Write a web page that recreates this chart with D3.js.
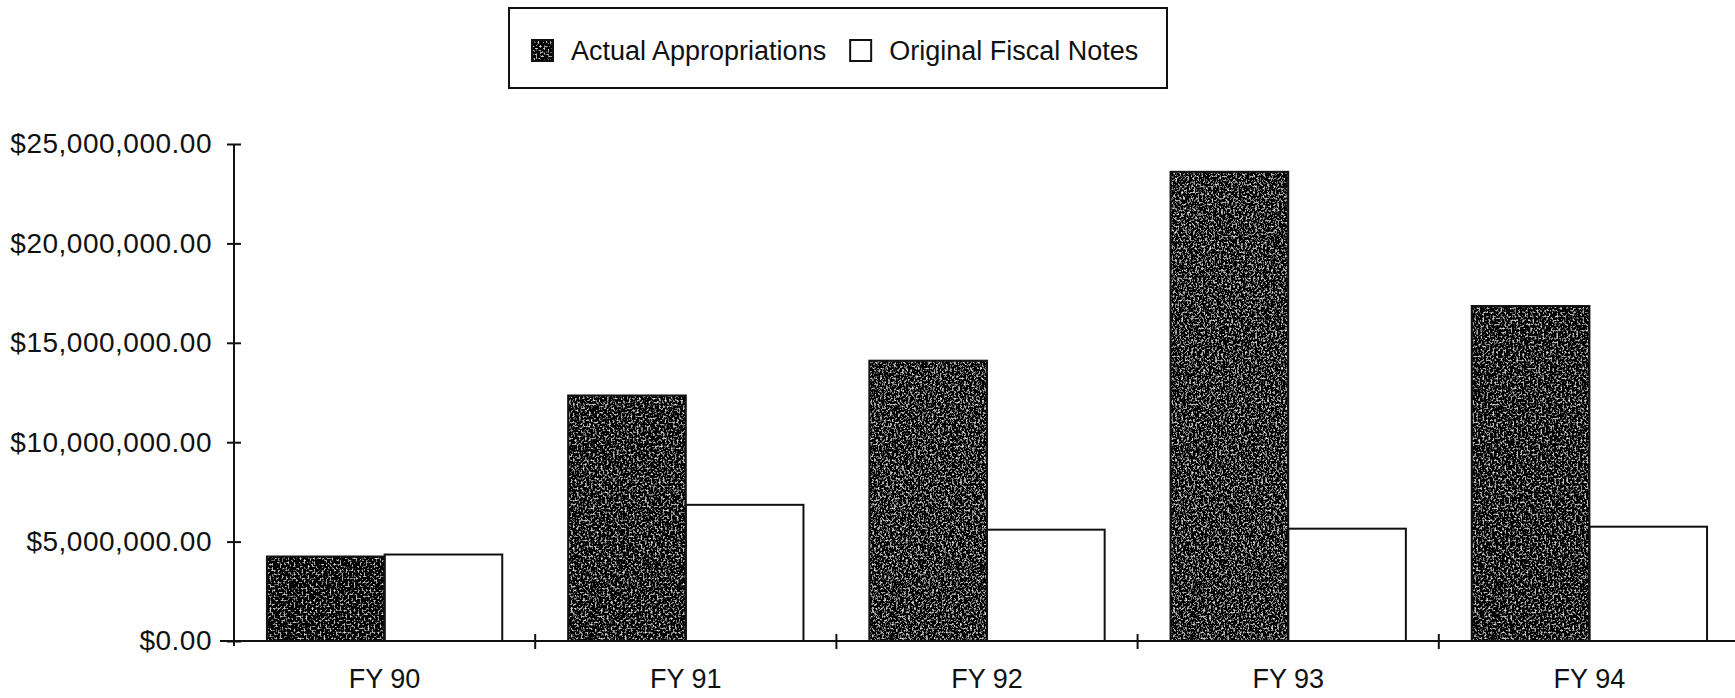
<!DOCTYPE html>
<html>
<head>
<meta charset="utf-8">
<script src="https://cdn.jsdelivr.net/npm/d3@7"></script>
<style>
	body { margin: 0; background: #fff; }
	text { font-family: "Liberation Sans", Arial, sans-serif; fill: #111; }
	.axis path, .axis line { stroke: #111; stroke-width: 2; }
</style>
</head>
<body>
<div id="chart-area"></div>
<script>

// Data
var years = ["FY 90", "FY 91", "FY 92", "FY 93", "FY 94"];
var series = ["Actual Appropriations", "Original Fiscal Notes"];
var actualAppropriations = [4250000, 12350000, 14100000, 23600000, 16850000];
var originalFiscalNotes = [4350000, 6850000, 5600000, 5650000, 5750000];
var yTicks = [0, 5000000, 10000000, 15000000, 20000000, 25000000];

var width = 1735,
	height = 698;

var margin = {top: 144, right: 0, bottom: 57, left: 234};

var svg = d3.select("#chart-area").append("svg")
	.attr("width", width)
	.attr("height", height);

// stippled dark fill
var defs = svg.append("defs");
var grain = defs.append("filter")
	.attr("id", "grain")
	.attr("x", 0).attr("y", 0)
	.attr("width", "100%").attr("height", "100%");
grain.append("feTurbulence")
	.attr("type", "fractalNoise")
	.attr("baseFrequency", 0.5)
	.attr("numOctaves", 2)
	.attr("seed", 4)
	.attr("result", "n");
grain.append("feColorMatrix")
	.attr("type", "matrix")
	.attr("values", "1 0 0 0 0  1 0 0 0 0  1 0 0 0 0  0 0 0 0 1");
var ct = grain.append("feComponentTransfer");
["feFuncR", "feFuncG", "feFuncB"].forEach(function(f) {
	ct.append(f).attr("type", "linear").attr("slope", 2.6).attr("intercept", -1.36);
});

var data = years.map(function(y, i) {
	return {year: y, values: [actualAppropriations[i], originalFiscalNotes[i]]};
});

var x = d3.scaleBand()
	.domain(years)
	.range([margin.left, 1740])
	.padding(0);

var x1 = d3.scaleBand()
	.domain(series)
	.range([0, x.bandwidth()])
	.paddingInner(0)
	.paddingOuter(0.28);

var y = d3.scaleLinear()
	.domain([0, 25000000])
	.range([height - margin.bottom, margin.top]);

// y axis
var yAxis = d3.axisLeft(y)
	.tickValues(yTicks)
	.tickFormat(d3.format("$,.2f"))
	.tickSizeOuter(0)
	.tickSizeInner(6)
	.tickPadding(16);

var gy = svg.append("g")
	.attr("class", "axis yAxis")
	.attr("transform", "translate(" + margin.left + ",0)")
	.call(yAxis);
gy.selectAll(".tick line").attr("x1", -7).attr("x2", 7);
gy.select(".domain").attr("d", "M0," + y(25000000) + "V" + (y(0) + 5));
gy.selectAll("text")
	.attr("font-size", 28)
	.style("letter-spacing", "0.5px")
	.style("font-family", "'Liberation Sans', Arial, sans-serif");

// bars
var groups = svg.selectAll(".year")
	.data(data)
	.enter()
	.append("g")
	.attr("class", "year")
	.attr("transform", function(d) { return "translate(" + x(d.year) + ",0)"; });

groups.selectAll("rect.bar")
	.data(function(d) {
		return d.values.map(function(v, i) { return {key: series[i], value: v}; });
	})
	.enter()
	.append("rect")
	.attr("class", "bar")
	.attr("x", function(d) { return x1(d.key); })
	.attr("y", function(d) { return y(d.value); })
	.attr("width", x1.bandwidth())
	.attr("height", function(d) { return y(0) - y(d.value); })
	.attr("fill", function(d) { return d.key === series[0] ? "#1a1a1a" : "#fff"; })
	.attr("filter", function(d) { return d.key === series[0] ? "url(#grain)" : null; });

groups.selectAll("rect.outline")
	.data(function(d) {
		return d.values.map(function(v, i) { return {key: series[i], value: v}; });
	})
	.enter()
	.append("rect")
	.attr("class", "outline")
	.attr("x", function(d) { return x1(d.key); })
	.attr("y", function(d) { return y(d.value); })
	.attr("width", x1.bandwidth())
	.attr("height", function(d) { return y(0) - y(d.value); })
	.attr("fill", "none")
	.attr("stroke", "#111")
	.attr("stroke-width", 2);

// x axis
var xAxis = d3.axisBottom(x)
	.tickSize(0)
	.tickPadding(28);

var gx = svg.append("g")
	.attr("class", "axis xAxis")
	.attr("transform", "translate(0," + y(0) + ")")
	.call(xAxis);
gx.select(".domain").attr("d", "M" + (margin.left - 14) + ",0H" + width);
gx.selectAll("text").attr("font-size", 27).style("font-family", "'Liberation Sans', Arial, sans-serif");

// separators between years
gx.selectAll(".sep")
	.data(years.slice(1))
	.enter()
	.append("line")
	.attr("class", "sep")
	.attr("x1", function(d) { return x(d); })
	.attr("x2", function(d) { return x(d); })
	.attr("y1", -7)
	.attr("y2", 8);

// legend
var legend = svg.append("g").attr("class", "legend");
legend.append("rect")
	.attr("x", 509)
	.attr("y", 8)
	.attr("width", 658)
	.attr("height", 80)
	.attr("fill", "#fff")
	.attr("stroke", "#111")
	.attr("stroke-width", 2);

var lx = 532;
series.forEach(function(s, i) {
	var item = legend.append("g").attr("transform", "translate(" + lx + ",40)");
	item.append("rect")
		.attr("width", 21)
		.attr("height", 21)
		.attr("fill", i === 0 ? "#1a1a1a" : "#fff")
		.attr("filter", i === 0 ? "url(#grain)" : null);
	item.append("rect")
		.attr("width", 21)
		.attr("height", 21)
		.attr("fill", "none")
		.attr("stroke", "#111")
		.attr("stroke-width", 2);
	var t = item.append("text")
		.attr("x", 39)
		.attr("y", 20)
		.attr("font-size", 27)
		.text(s);
	lx += 39 + t.node().getComputedTextLength() + 24;
});

</script>
</body>
</html>
